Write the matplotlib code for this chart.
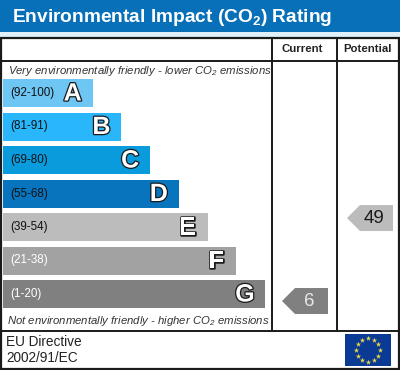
import numpy as np
import matplotlib
matplotlib.use("Agg")
import matplotlib.pyplot as plt
from matplotlib.patches import Rectangle, Polygon
import matplotlib.patheffects as pe

title = "Environmental Impact (CO$_2$) Rating"
col_headers = ["Current", "Potential"]
top_note = "Very environmentally friendly - lower CO$_2$ emissions"
bottom_note = "Not environmentally friendly - higher CO$_2$ emissions"
footer = ["EU Directive", "2002/91/EC"]
letters = ["A", "B", "C", "D", "E", "F", "G"]
ranges = ["(92-100)", "(81-91)", "(69-80)", "(55-68)", "(39-54)", "(21-38)", "(1-20)"]
band_steps = [1, 2, 3, 4, 5, 6, 7]
band_colors = ["#6ec6f5", "#29b6fb", "#0a9bdc", "#0874bd", "#bcbcbc", "#a2a2a2", "#808080"]
range_text_colors = ["#111111", "#111111", "#111111", "#111111", "#111111", "white", "white"]
current = 6
potential = 49
current_color = "#808080"
potential_color = "#bcbcbc"

plt.rcParams["font.family"] = ["Liberation Sans", "DejaVu Sans"]
plt.rcParams["mathtext.fontset"] = "custom"
plt.rcParams["mathtext.rm"] = "Liberation Sans"
plt.rcParams["mathtext.it"] = "Liberation Sans:italic"
plt.rcParams["mathtext.default"] = "regular"

fig = plt.figure(figsize=(4.0, 3.7), dpi=100)
ax = fig.add_axes([0, 0, 1, 1])
ax.set_xlim(0, 400)
ax.set_ylim(370, 0)
ax.axis("off")

DARK = "#1a1a1a"
ax.add_patch(Rectangle((0, 0), 400, 32, fc="#0770b8", ec="none"))
ax.add_patch(Rectangle((0, 32), 400, 5, fc="#dff0fa", ec="none"))
ax.text(11.5, 17.5, title, color="white", fontsize=13.8, fontweight="bold", va="center", ha="left")

# frame
ax.add_patch(Rectangle((1, 38), 398, 331, fc="none", ec=DARK, lw=1.6))
for y in (61, 331):
    ax.plot([1, 399], [y, y], color=DARK, lw=1.4, solid_capstyle="butt")
for x in (271.5, 336.5):
    ax.plot([x, x], [38, 331], color=DARK, lw=1.4, solid_capstyle="butt")
ax.text(302, 48.5, col_headers[0], fontsize=8.2, fontweight="bold", ha="center", va="center", color="#222222")
ax.text(367.5, 48.5, col_headers[1], fontsize=8.2, fontweight="bold", ha="center", va="center", color="#222222")

ax.text(8, 71, top_note, fontsize=8.2, style="italic", color="#333333", va="center", ha="left")
ax.text(7, 321, bottom_note, fontsize=8.2, style="italic", color="#333333", va="center", ha="left")

# bars
for step, letter, rng, col, tc in zip(band_steps, letters, ranges, band_colors, range_text_colors):
    top = 79 + (step - 1) * 33.5
    right = 64 + step * 28.7
    ax.add_patch(Rectangle((3, top), right - 3, 28, fc=col, ec="none"))
    ax.text(10, top + 14, rng, fontsize=8.4, color=tc, va="center", ha="left")
    ax.text(right - 20, top + 14.5, letter, fontsize=18, fontweight="bold", color="white", va="center", ha="center",
            path_effects=[pe.Stroke(linewidth=1.8, foreground="#1a1a1a"), pe.Normal()])

# arrows
def score_y(s):
    return 312.6 - 1.93 * s

def arrow(score, x_right, color, text_color):
    y = score_y(score)
    ax.add_patch(Polygon([(x_right, y - 13), (x_right, y + 13), (x_right - 33, y + 13),
                          (x_right - 46, y), (x_right - 33, y - 13)], closed=True, fc=color, ec="none"))
    ax.text(x_right - 19, y + 0.5, str(score), fontsize=13.5, color=text_color, ha="center", va="center")

arrow(current, 328, current_color, "#e8e8e8")
arrow(potential, 393, potential_color, "#1a1a1a")

# footer
ax.text(6, 342, footer[0], fontsize=9.8, color="#222222", va="center", ha="left")
ax.text(6, 358.5, footer[1], fontsize=9.8, color="#222222", va="center", ha="left")

# EU flag
ax.add_patch(Rectangle((345, 334), 46, 32, fc="#0a3a94", ec="none"))
ang = np.deg2rad(np.arange(0, 360, 30))
ax.scatter(368 + 12 * np.cos(ang), 350 + 12 * np.sin(ang), marker="*", s=16, color="#e8d84a", linewidths=0, zorder=3)

fig.savefig("out.png", dpi=100)
